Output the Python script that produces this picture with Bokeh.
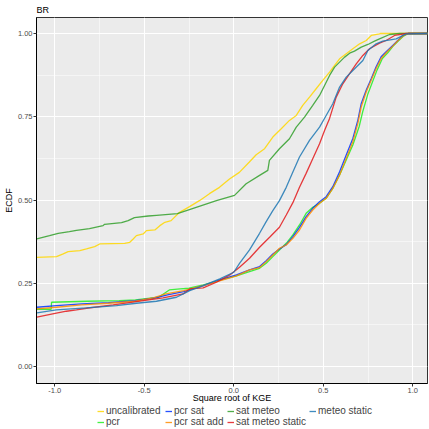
from bokeh.plotting import figure
from bokeh.models import Range1d, FixedTicker, Legend, LegendItem, PrintfTickFormatter
from bokeh.layouts import column
from bokeh.embed import file_html
from bokeh.resources import INLINE

series_names = ["uncalibrated", "pcr", "pcr sat", "pcr sat add",
                "sat meteo", "sat meteo static", "meteo static"]
series_colors = ["#FFD700", "#22EE22", "#0033FF", "#FF8C00",
                 "#33A02C", "#E31A1C", "#1F78B4"]

x_ticks = [-1.0, -0.5, 0.0, 0.5, 1.0]
x_minor = [-0.75, -0.25, 0.25, 0.75]
y_ticks = [0.0, 0.25, 0.5, 0.75, 1.0]
y_minor = [0.125, 0.375, 0.625, 0.875]

uncalibrated_x = [-1.1, -0.99, -0.953, -0.925, -0.86, -0.823, -0.777, -0.749, -0.609, -0.581,
                  -0.562, -0.544, -0.506, -0.488, -0.441, -0.413, -0.385, -0.35, -0.303, -0.247,
                  -0.192, -0.136, -0.08, -0.024, 0.031, 0.087, 0.125, 0.172, 0.218, 0.265,
                  0.311, 0.349, 0.385, 0.423, 0.46, 0.497, 0.535, 0.563, 0.591, 0.628,
                  0.665, 0.703, 0.74, 0.768, 0.814, 0.82, 1.1]
uncalibrated_y = [0.328, 0.330, 0.338, 0.345, 0.348, 0.353, 0.36, 0.368, 0.37, 0.373,
                  0.383, 0.393, 0.398, 0.408, 0.41, 0.423, 0.433, 0.438, 0.463, 0.48,
                  0.498, 0.519, 0.538, 0.563, 0.583, 0.614, 0.636, 0.654, 0.689, 0.714,
                  0.739, 0.754, 0.784, 0.809, 0.834, 0.859, 0.884, 0.904, 0.924, 0.939,
                  0.954, 0.969, 0.979, 0.994, 0.999, 1.0, 1.0]

pcr_x = [-1.1, -1.02, -1.018, -0.82, -0.64, -0.55, -0.42, -0.36, -0.30, -0.25,
         -0.17, -0.06, 0.015, 0.088, 0.144, 0.181, 0.218, 0.255, 0.293, 0.33,
         0.367, 0.404, 0.441, 0.479, 0.516, 0.553, 0.591, 0.628, 0.665, 0.70,
         0.72, 0.75, 0.775, 0.80, 0.83, 0.86, 0.89, 0.92, 0.95, 0.975, 1.1]
pcr_y = [0.172, 0.172, 0.193, 0.196, 0.198, 0.200, 0.208, 0.23, 0.233, 0.235,
         0.245, 0.262, 0.272, 0.285, 0.295, 0.31, 0.33, 0.35, 0.37, 0.395,
         0.425, 0.46, 0.478, 0.49, 0.505, 0.535, 0.575, 0.62, 0.665, 0.72,
         0.765, 0.82, 0.855, 0.89, 0.925, 0.942, 0.962, 0.978, 0.993, 1.0, 1.0]

pcr_sat_x = [-1.1, -0.99, -0.85, -0.70, -0.55, -0.45, -0.37, -0.28, -0.17, -0.06,
             0.015, 0.088, 0.144, 0.181, 0.218, 0.255, 0.293, 0.33, 0.367, 0.404,
             0.441, 0.479, 0.516, 0.553, 0.591, 0.628, 0.665, 0.693, 0.712, 0.74,
             0.768, 0.795, 0.823, 0.851, 0.888, 0.916, 0.944, 0.972, 1.1]
pcr_sat_y = [0.178, 0.183, 0.188, 0.192, 0.198, 0.205, 0.215, 0.225, 0.243, 0.263,
             0.275, 0.29, 0.3, 0.318, 0.338, 0.353, 0.366, 0.39, 0.418, 0.45,
             0.475, 0.495, 0.51, 0.54, 0.585, 0.635, 0.685, 0.74, 0.79, 0.83,
             0.865, 0.9, 0.93, 0.945, 0.964, 0.979, 0.994, 1.0, 1.0]

pcr_sat_add_x = [-1.1, -0.99, -0.85, -0.70, -0.55, -0.45, -0.38, -0.28, -0.17, -0.06,
                 0.015, 0.088, 0.144, 0.181, 0.218, 0.255, 0.293, 0.33, 0.367, 0.404,
                 0.441, 0.479, 0.516, 0.553, 0.591, 0.628, 0.665, 0.693, 0.712, 0.74,
                 0.768, 0.795, 0.823, 0.851, 0.888, 0.916, 0.944, 0.975, 1.1]
pcr_sat_add_y = [0.173, 0.178, 0.185, 0.19, 0.196, 0.206, 0.218, 0.228, 0.243, 0.26,
                 0.272, 0.29, 0.297, 0.315, 0.335, 0.355, 0.365, 0.385, 0.41, 0.445,
                 0.47, 0.49, 0.505, 0.535, 0.575, 0.625, 0.675, 0.73, 0.78, 0.825,
                 0.86, 0.895, 0.925, 0.942, 0.962, 0.978, 0.992, 1.0, 1.0]

sat_meteo_x = [-1.1, -1.029, -0.981, -0.918, -0.879, -0.806, -0.73, -0.722, -0.627, -0.59,
               -0.555, -0.478, -0.432, -0.315, -0.231, -0.097, 0.004, 0.069, 0.144, 0.19,
               0.199, 0.255, 0.311, 0.349, 0.395, 0.441, 0.479, 0.507, 0.535, 0.563,
               0.591, 0.619, 0.647, 0.674, 0.712, 0.749, 0.786, 0.814, 0.87, 0.926, 1.1]
sat_meteo_y = [0.383, 0.393, 0.40, 0.405, 0.409, 0.414, 0.423, 0.427, 0.432, 0.438,
               0.447, 0.452, 0.454, 0.459, 0.474, 0.498, 0.514, 0.549, 0.574, 0.589,
               0.619, 0.654, 0.684, 0.719, 0.749, 0.784, 0.814, 0.844, 0.874, 0.899,
               0.914, 0.929, 0.941, 0.947, 0.959, 0.967, 0.977, 0.984, 0.997, 1.0, 1.0]

sat_meteo_static_x = [-1.1, -0.991, -0.935, -0.879, -0.823, -0.674, -0.544, -0.395, -0.283, -0.246,
                      -0.171, -0.097, -0.022, 0.032, 0.088, 0.144, 0.2, 0.255, 0.293, 0.33,
                      0.367, 0.404, 0.441, 0.479, 0.507, 0.535, 0.572, 0.609, 0.646, 0.684,
                      0.721, 0.758, 0.814, 0.851, 0.898, 0.963, 1.1]
sat_meteo_static_y = [0.148, 0.16, 0.166, 0.17, 0.175, 0.185, 0.195, 0.206, 0.218, 0.233,
                      0.236, 0.253, 0.275, 0.298, 0.325, 0.358, 0.388, 0.418, 0.455, 0.492,
                      0.538, 0.58, 0.624, 0.669, 0.709, 0.745, 0.809, 0.849, 0.879, 0.909,
                      0.934, 0.954, 0.971, 0.979, 0.994, 1.0, 1.0]

meteo_static_x = [-1.1, -0.991, -0.823, -0.655, -0.544, -0.432, -0.32, -0.246, -0.171, -0.078,
                  0.0, 0.032, 0.088, 0.144, 0.181, 0.218, 0.255, 0.293, 0.33, 0.367,
                  0.423, 0.479, 0.512, 0.553, 0.591, 0.628, 0.665, 0.721, 0.749, 0.795,
                  0.832, 0.907, 0.963, 1.1]
meteo_static_y = [0.161, 0.17, 0.176, 0.183, 0.19, 0.196, 0.208, 0.228, 0.243, 0.263,
                  0.283, 0.31, 0.35, 0.40, 0.435, 0.468, 0.498, 0.538, 0.584, 0.629,
                  0.679, 0.719, 0.75, 0.789, 0.839, 0.869, 0.889, 0.919, 0.949, 0.969,
                  0.977, 0.984, 0.999, 1.0]

series_x = [uncalibrated_x, pcr_x, pcr_sat_x, pcr_sat_add_x, sat_meteo_x, sat_meteo_static_x, meteo_static_x]
series_y = [uncalibrated_y, pcr_y, pcr_sat_y, pcr_sat_add_y, sat_meteo_y, sat_meteo_static_y, meteo_static_y]

# legend columns (two rows, filled column by column)
legend_columns = [["uncalibrated", "pcr"], ["pcr sat", "pcr sat add"],
                  ["sat meteo", "sat meteo static"], ["meteo static"]]
# screen offsets (px) of each legend column, from the legend strip's bottom-left corner
legend_offsets = [(97, 0), (165, 0), (227, 0), (309, 11)]

FONT = "Liberation Sans"

p = figure(frame_width=391, frame_height=366,
           x_range=Range1d(-1.102, 1.082), y_range=Range1d(-0.051, 1.048),
           output_backend="svg", toolbar_location=None,
           min_border_left=29, min_border_right=1, min_border_top=0, min_border_bottom=0,
           background_fill_color="#EBEBEB", border_fill_color="white")

p.title.text = "BR"
p.title.text_font = FONT
p.title.text_font_size = "9px"
p.title.text_font_style = "normal"
p.title.text_color = "black"
p.title.standoff = 5
p.title.offset = 0

p.outline_line_color = "#333333"
p.outline_line_width = 1

for ax, ticks, minor, fmt in ((p.xaxis, x_ticks, x_minor, "%.1f"), (p.yaxis, y_ticks, y_minor, "%.2f")):
    ax.ticker = FixedTicker(ticks=ticks, minor_ticks=minor)
    ax.formatter = PrintfTickFormatter(format=fmt)
    ax.axis_line_color = "black"
    ax.axis_line_width = 1
    ax.major_tick_line_color = "#333333"
    ax.major_tick_out = 3
    ax.major_tick_in = 0
    ax.minor_tick_line_color = None
    ax.major_label_text_font = FONT
    ax.major_label_text_font_size = "7.5px"
    ax.major_label_text_color = "#4D4D4D"
    ax.major_label_standoff = 0
    ax.axis_label_text_font = FONT
    ax.axis_label_text_font_size = "9px"
    ax.axis_label_text_font_style = "normal"
    ax.axis_label_text_color = "black"

p.yaxis.axis_label_standoff = 1
p.xaxis.axis_label_standoff = -3

p.xaxis.axis_label = "Square root of KGE"
p.yaxis.axis_label = "ECDF"

for g in (p.xgrid, p.ygrid):
    g.grid_line_color = "white"
    g.grid_line_width = 1.1
    g.minor_grid_line_color = "white"
    g.minor_grid_line_width = 0.5

for name, color, xs, ys in zip(series_names, series_colors, series_x, series_y):
    p.line(xs, ys, line_color=color, line_width=1.3, line_alpha=0.85)

# legend strip below the chart
leg = figure(frame_width=421, frame_height=22, x_range=Range1d(0, 1), y_range=Range1d(0, 1),
             output_backend="svg", toolbar_location=None,
             x_axis_location=None, y_axis_location=None,
             min_border_left=0, min_border_right=0, min_border_top=0, min_border_bottom=0,
             outline_line_color=None, background_fill_color="white", border_fill_color="white")
leg.xgrid.visible = False
leg.ygrid.visible = False

nan = float("nan")
proxies = {}
for name, color in zip(series_names, series_colors):
    proxies[name] = leg.line(x=[nan], y=[nan], line_color=color, line_width=1.3, line_alpha=0.85)

for col, loc in zip(legend_columns, legend_offsets):
    items = [LegendItem(label=n, renderers=[proxies[n]]) for n in col]
    lg = Legend(items=items, orientation="vertical", location=loc,
                label_text_font=FONT, label_text_font_size="10px",
                label_height=8, glyph_height=8, glyph_width=7, label_standoff=2,
                spacing=-1, padding=0, margin=0, border_line_color=None,
                background_fill_alpha=0)
    leg.add_layout(lg)

layout = column(p, leg, spacing=0)

open("out.html", "w").write(file_html(layout, INLINE))
